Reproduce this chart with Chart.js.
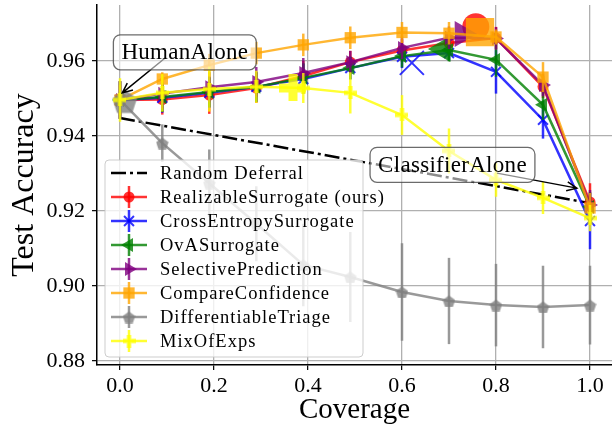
<!DOCTYPE html>
<html>
<head>
<meta charset="utf-8">
<script src="https://cdn.jsdelivr.net/npm/chart.js@4.4.0/dist/chart.umd.min.js"></script>
<style>
  html, body { margin: 0; padding: 0; background: #fff; }
  #wrap { width: 612px; height: 431px; }
</style>
</head>
<body>
<div id="wrap"><canvas id="chart" width="612" height="431"></canvas></div>
<script>
// coverage points shared by every method
const coverage = [0, 0.09, 0.19, 0.29, 0.39, 0.49, 0.6, 0.7, 0.8, 0.9, 1.0];

const realizable    = [0.9496, 0.9497, 0.9509, 0.9528, 0.9560, 0.9597, 0.9628, 0.9648, 0.9661, 0.9531, 0.9224];
const realizableErr = [0.005, 0.004, 0.005, 0.004, 0.004, 0.003, 0.003, 0.003, 0.003, 0.003, 0.005];
const crossEntropy    = [0.9496, 0.9502, 0.9515, 0.9531, 0.9552, 0.9581, 0.9611, 0.9621, 0.9571, 0.9443, 0.9173];
const crossEntropyErr = [0.005, 0.004, 0.004, 0.004, 0.004, 0.003, 0.003, 0.002, 0.0058, 0.005, 0.0075];
const ova    = [0.9496, 0.9504, 0.9517, 0.9531, 0.9555, 0.9581, 0.9613, 0.9629, 0.9603, 0.9483, 0.9211];
const ovaErr = [0.005, 0.004, 0.004, 0.004, 0.004, 0.003, 0.003, 0.003, 0.0045, 0.004, 0.004];
const selective    = [0.9496, 0.9513, 0.9530, 0.9544, 0.9568, 0.9597, 0.9635, 0.9662, 0.9660, 0.9536, 0.9216];
const selectiveErr = [0.005, 0.004, 0.004, 0.004, 0.004, 0.003, 0.003, 0.003, 0.003, 0.003, 0.004];
const compareConf    = [0.9496, 0.9552, 0.9589, 0.9621, 0.9643, 0.9662, 0.9676, 0.9674, 0.9664, 0.9557, 0.9208];
const compareConfErr = [0.004, 0.0018, 0.003, 0.003, 0.003, 0.003, 0.0028, 0.003, 0.002, 0.004, 0.004];
const diffTriage    = [0.9496, 0.9381, 0.9274, 0.9166, 0.9056, 0.9024, 0.8984, 0.8960, 0.8949, 0.8944, 0.8949];
const diffTriageErr = [0.005, 0.005, 0.009, 0.010, 0.011, 0.012, 0.013, 0.0115, 0.011, 0.011, 0.0105];
const mixOfExps    = [0.9496, 0.9515, 0.9525, 0.9531, 0.9528, 0.9515, 0.9456, 0.9360, 0.9283, 0.9235, 0.9181];
const mixOfExpsErr = [0.0058, 0.005, 0.006, 0.0043, 0.004, 0.0055, 0.0053, 0.006, 0.0045, 0.0043, 0.0035];

// random deferral baseline (two end points)
const randomCoverage = [0, 1.0];
const randomAccuracy = [0.9448, 0.9221];

// the chosen operating point of each method (big markers)
const selectedCoverage = [0.757, 0.621, 0.687, 0.728, 0.766, 0.01, 0.368];
const selectedAccuracy = [0.9691, 0.9595, 0.9632, 0.9672, 0.9677, 0.9492, 0.9528];

const names = ['RealizableSurrogate (ours)', 'CrossEntropySurrogate', 'OvASurrogate',
  'SelectivePrediction', 'CompareConfidence', 'DifferentiableTriage', 'MixOfExps'];

const xTicks = [0, 0.2, 0.4, 0.6, 0.8, 1.0];
const yTicks = [0.88, 0.90, 0.92, 0.94, 0.96];

const FONT = '"Liberation Serif", "Times New Roman", serif';

function makePlus(size, color) {
  const c = document.createElement('canvas');
  c.width = size; c.height = size;
  const g = c.getContext('2d');
  const t = size / 3;
  g.fillStyle = color;
  g.fillRect(t, 0, t, size);
  g.fillRect(0, t, t, t);
  g.fillRect(2 * t, t, t, t);
  return c;
}
function makePentagon(size, color) {
  const c = document.createElement('canvas');
  c.width = size; c.height = size;
  const g = c.getContext('2d');
  const r = size / 2;
  g.fillStyle = color;
  g.beginPath();
  for (let k = 0; k < 5; k++) {
    const a = -Math.PI / 2 + k * 2 * Math.PI / 5;
    g.lineTo(r + r * Math.cos(a), r + 1 + r * Math.sin(a));
  }
  g.closePath();
  g.fill();
  return c;
}

const colors = ['rgba(255,0,0,0.8)', 'rgba(0,0,255,0.8)', 'rgba(0,128,0,0.8)', 'rgba(128,0,128,0.8)',
  'rgba(255,165,0,0.8)', 'rgba(128,128,128,0.8)', 'rgba(255,255,0,0.8)'];

const styles = [
  { pointStyle: 'circle', radius: 5.5, rotation: 0, big: 13.5 },
  { pointStyle: 'crossRot', radius: 7, rotation: 0, big: 17, bw: 2 },
  { pointStyle: 'triangle', radius: 8, rotation: -90, big: 15 },
  { pointStyle: 'triangle', radius: 8, rotation: 90, big: 15 },
  { pointStyle: 'rect', radius: 8, rotation: 0, big: 20 },
  { pointStyle: makePentagon(13, colors[5]), radius: 6, rotation: 0, bigStyle: makePentagon(26, colors[5]) },
  { pointStyle: makePlus(13, colors[6]), radius: 6, rotation: 0, bigStyle: makePlus(27, colors[6]) }
];

const series = [realizable, crossEntropy, ova, selective, compareConf, diffTriage, mixOfExps];
const seriesErr = [realizableErr, crossEntropyErr, ovaErr, selectiveErr, compareConfErr, diffTriageErr, mixOfExpsErr];

const datasets = [{
  label: 'Random Deferral',
  data: randomCoverage.map((x, i) => ({ x, y: randomAccuracy[i] })),
  showLine: true,
  borderColor: '#000',
  borderWidth: 2.5,
  borderDash: [15, 4, 3, 4],
  pointRadius: 0,
  order: 30
}];

series.forEach((vals, i) => {
  const s = styles[i];
  datasets.push({
    label: names[i],
    data: coverage.map((x, k) => ({ x, y: vals[k] })),
    errors: seriesErr[i],
    showLine: true,
    borderColor: colors[i],
    backgroundColor: colors[i],
    borderWidth: 2.5,
    pointStyle: s.pointStyle,
    pointRadius: s.radius,
    pointRotation: s.rotation,
    pointBorderWidth: s.bw || 0,
    pointBorderColor: colors[i],
    order: 28 - 2 * i
  });
  datasets.push({
    label: names[i] + ' selected',
    data: [{ x: selectedCoverage[i], y: selectedAccuracy[i] }],
    showLine: false,
    borderColor: colors[i],
    backgroundColor: colors[i],
    pointStyle: s.bigStyle || s.pointStyle,
    pointRadius: s.big || 12,
    pointRotation: s.rotation,
    pointBorderWidth: s.pointStyle === 'crossRot' ? 2 : 0,
    order: 27 - 2 * i
  });
});

const errorBars = {
  id: 'errorBars',
  beforeDatasetDraw(chart, args) {
    const ds = chart.data.datasets[args.index];
    if (!ds.errors) return;
    const { ctx, scales: { x, y } } = chart;
    ctx.save();
    ctx.strokeStyle = ds.borderColor;
    ctx.lineWidth = 2.5;
    ds.data.forEach((p, i) => {
      const px = x.getPixelForValue(p.x);
      ctx.beginPath();
      ctx.moveTo(px, y.getPixelForValue(p.y - ds.errors[i]));
      ctx.lineTo(px, y.getPixelForValue(p.y + ds.errors[i]));
      ctx.stroke();
    });
    ctx.restore();
  }
};

function roundRect(ctx, x, y, w, h, r) {
  ctx.beginPath();
  ctx.moveTo(x + r, y);
  ctx.arcTo(x + w, y, x + w, y + h, r);
  ctx.arcTo(x + w, y + h, x, y + h, r);
  ctx.arcTo(x, y + h, x, y, r);
  ctx.arcTo(x, y, x + w, y, r);
  ctx.closePath();
}

function arrow(ctx, x1, y1, x2, y2) {
  ctx.beginPath();
  ctx.moveTo(x1, y1);
  ctx.lineTo(x2, y2);
  const a = Math.atan2(y2 - y1, x2 - x1);
  const L = 11, w = 0.42;
  ctx.moveTo(x2 - L * Math.cos(a - w), y2 - L * Math.sin(a - w));
  ctx.lineTo(x2, y2);
  ctx.lineTo(x2 - L * Math.cos(a + w), y2 - L * Math.sin(a + w));
  ctx.stroke();
}

// text boxes: [label, box centre x, y, arrow tail x, y, arrow tip x, y]
const notes = [
  ['HumanAlone', 0.138, 0.9623, 0.098, 0.9610, 0.005, 0.9515],
  ['ClassifierAlone', 0.7074, 0.9323, 0.802, 0.9301, 0.972, 0.9261]
];

const annotations = {
  id: 'annotations',
  afterDatasetsDraw(chart) {
    const { ctx, scales: { x, y } } = chart;
    ctx.save();
    ctx.font = '23px ' + FONT;
    ctx.letterSpacing = '0.3px';
    notes.forEach(n => {
      ctx.strokeStyle = '#000';
      ctx.lineWidth = 1.5;
      arrow(ctx, x.getPixelForValue(n[3]), y.getPixelForValue(n[4]), x.getPixelForValue(n[5]), y.getPixelForValue(n[6]));
      const cx = x.getPixelForValue(n[1]), cy = y.getPixelForValue(n[2]);
      const w = ctx.measureText(n[0]).width + 16, h = 35;
      roundRect(ctx, cx - w / 2, cy - h / 2, w, h, 7);
      ctx.fillStyle = 'rgba(255,255,255,0.55)';
      ctx.fill();
      ctx.strokeStyle = 'rgba(70,70,70,0.8)';
      ctx.lineWidth = 1.3;
      ctx.stroke();
      ctx.fillStyle = '#000';
      ctx.textAlign = 'center';
      ctx.textBaseline = 'middle';
      ctx.fillText(n[0], cx, cy + 1);
    });
    ctx.restore();
  }
};

const legendBox = {
  id: 'legendBox',
  afterDatasetsDraw(chart) {
    const ctx = chart.ctx;
    const left = 105, top = 160, w = 258, h = 197;
    ctx.save();
    roundRect(ctx, left, top, w, h, 4);
    ctx.fillStyle = 'rgba(255,255,255,0.8)';
    ctx.fill();
    ctx.strokeStyle = 'rgba(200,200,200,0.9)';
    ctx.lineWidth = 1;
    ctx.stroke();
    ctx.font = '18.5px ' + FONT;
    ctx.letterSpacing = '1px';
    ctx.textBaseline = 'middle';
    const rowY = k => 173 + k * 24;
    // random deferral entry
    ctx.strokeStyle = '#000';
    ctx.lineWidth = 2.5;
    ctx.setLineDash([15, 4, 3, 4]);
    ctx.beginPath(); ctx.moveTo(111, rowY(0)); ctx.lineTo(147, rowY(0)); ctx.stroke();
    ctx.setLineDash([]);
    ctx.fillStyle = '#000';
    ctx.fillText('Random Deferral', 160, rowY(0) + 1);
    names.forEach((nm, i) => {
      const yy = rowY(i + 1), s = styles[i];
      ctx.strokeStyle = colors[i];
      ctx.fillStyle = colors[i];
      ctx.lineWidth = 2.5;
      ctx.beginPath(); ctx.moveTo(111, yy); ctx.lineTo(147, yy); ctx.stroke();
      ctx.beginPath(); ctx.moveTo(129, yy - 11); ctx.lineTo(129, yy + 11); ctx.stroke();
      ctx.lineWidth = s.bw || 0;
      Chart.helpers.drawPoint(ctx, { pointStyle: s.pointStyle, rotation: s.rotation, radius: s.radius, borderWidth: s.bw || 0 }, 129, yy);
      ctx.fillStyle = '#000';
      ctx.fillText(nm, 160, yy + 1);
    });
    ctx.restore();
  }
};

Chart.defaults.font.family = FONT;
Chart.defaults.color = '#000';

new Chart(document.getElementById('chart'), {
  type: 'scatter',
  data: { datasets },
  plugins: [errorBars, annotations, legendBox],
  options: {
    responsive: false,
    animation: false,
    layout: { autoPadding: false, padding: { top: 5, right: 0, left: 0, bottom: 0 } },
    plugins: { legend: { display: false }, tooltip: { enabled: false } },
    scales: {
      x: {
        type: 'linear',
        min: -0.0489,
        max: 1.0468,
        afterBuildTicks: s => { s.ticks = xTicks.map(v => ({ value: v })); },
        afterFit: s => { s.height = 66; s.paddingLeft = 0; s.paddingRight = 0; },
        ticks: { font: { size: 22 }, padding: 3, callback: v => v.toFixed(1) },
        grid: { color: '#b0b0b0', lineWidth: 1.3, tickColor: '#000', tickLength: 5, tickWidth: 1.2 },
        border: { color: '#000', width: 1.5 },
        title: { display: true, text: 'Coverage', font: { size: 29 }, padding: { top: 0, bottom: 3 } }
      },
      y: {
        type: 'linear',
        min: 0.87893,
        max: 0.97493,
        afterBuildTicks: s => { s.ticks = yTicks.map(v => ({ value: v })); },
        afterFit: s => { s.width = 97; s.paddingTop = 0; s.paddingBottom = 0; },
        ticks: { font: { size: 22 }, padding: 7, callback: v => v.toFixed(2) },
        grid: { color: '#b0b0b0', lineWidth: 1.3, tickColor: '#000', tickLength: 5, tickWidth: 1.2 },
        border: { color: '#000', width: 1.5 },
        title: { display: true, text: 'Test Accuracy', font: { size: 32 }, padding: { top: 5, bottom: 0 } }
      }
    }
  }
});
</script>
</body>
</html>
